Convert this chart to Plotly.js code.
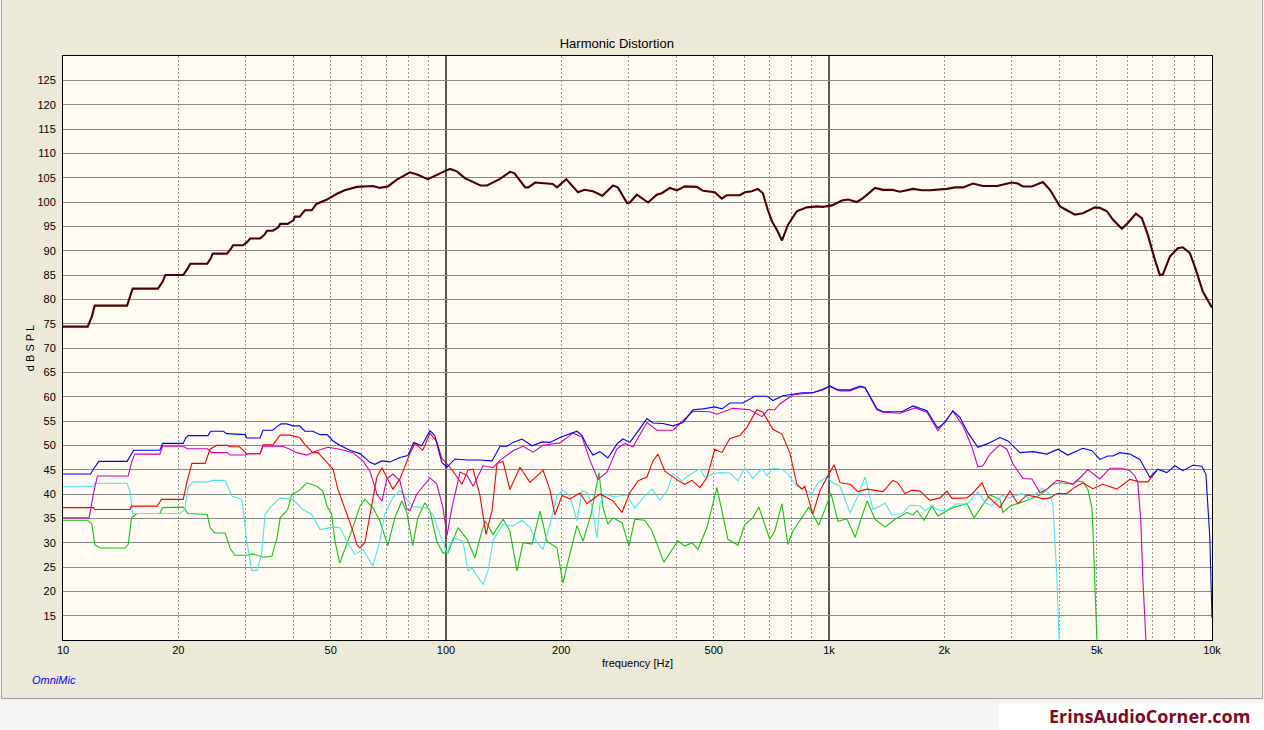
<!DOCTYPE html>
<html>
<head>
<meta charset="utf-8">
<script src="https://cdn.plot.ly/plotly-3.0.1.min.js"></script>
<style>
html,body{margin:0;padding:0;background:#F4F4F4;overflow:hidden;}
#chart{width:1264px;height:730px;}
</style>
</head>
<body>
<div id="chart"></div>
<script>
// ---------------- data (frequency in Hz, level in dB SPL) ----------------
const fundFreq = [10, 11.6, 11.9, 12.1, 14.7, 14.95, 15.2, 17.7, 18.2, 18.5, 20.6, 21.1, 21.5, 23.8, 24.3, 24.6, 26.8, 27.4, 27.8, 29.5, 30.3, 30.8, 32.7, 33.6, 34.1, 35.3, 36.5, 36.9, 38.6, 40.0, 40.3, 41.5, 42.8, 44.6, 45.9, 48.9, 51.9, 54.4, 58.5, 64.4, 67.2, 70.5, 74.4, 80.5, 84.4, 89.6, 96.4, 102.4, 106.8, 112, 123, 128, 138, 147, 151, 161, 164, 171, 190, 195, 206, 221, 230, 242, 256, 273, 281, 297, 302, 315, 337, 355, 366, 384, 401, 420, 452, 469, 503, 525, 541, 585, 603, 629, 652, 672, 692, 710, 731, 754, 781, 824, 875, 930, 964, 1018, 1081, 1121, 1183, 1227, 1319, 1384, 1460, 1532, 1657, 1749, 1835, 2032, 2133, 2238, 2376, 2523, 2744, 3003, 3112, 3208, 3387, 3618, 3775, 4008, 4179, 4388, 4601, 4948, 5097, 5315, 5509, 5817, 6028, 6328, 6559, 6797, 7095, 7310, 7441, 7762, 8140, 8390, 8753, 9075, 9462, 9870, 10000];
const fundLevel = [74.4, 74.4, 76.5, 78.7, 78.7, 80.5, 82.2, 82.2, 83.6, 85.0, 85.0, 86.2, 87.3, 87.3, 88.4, 89.4, 89.4, 90.3, 91.1, 91.1, 91.8, 92.5, 92.5, 93.3, 94.1, 94.1, 94.8, 95.5, 95.5, 96.3, 97.0, 97.0, 98.3, 98.3, 99.6, 100.5, 101.7, 102.4, 103.1, 103.3, 102.9, 103.2, 104.6, 106.1, 105.6, 104.7, 105.9, 106.8, 106.3, 104.9, 103.4, 103.4, 104.7, 106.2, 105.9, 103.0, 103.0, 104.0, 103.7, 103.0, 104.7, 102.0, 102.5, 102.2, 101.3, 103.4, 103.0, 99.8, 99.9, 101.5, 99.9, 101.5, 101.8, 102.9, 102.4, 103.2, 103.1, 102.3, 102.0, 100.7, 101.4, 101.4, 102.0, 102.2, 102.7, 101.8, 98.4, 96.0, 94.3, 92.1, 95.3, 98.1, 98.9, 99.1, 99.0, 99.3, 100.3, 100.5, 100.0, 100.8, 102.9, 102.5, 102.5, 102.1, 102.7, 102.4, 102.4, 102.7, 103.0, 103.0, 103.8, 103.3, 103.3, 104.0, 103.8, 103.2, 103.2, 104.1, 102.5, 99.1, 98.3, 97.4, 97.7, 98.9, 98.8, 98.1, 96.4, 94.5, 95.7, 97.6, 96.7, 93.3, 88.1, 85.0, 85.1, 88.8, 90.5, 90.7, 89.5, 86.1, 81.6, 79.2, 78.3];

const thdFreq = [10, 11.8, 12.1, 12.4, 14.7, 15.0, 15.3, 17.9, 18.2, 20.6, 20.9, 21.2, 23.9, 24.3, 26.2, 26.8, 29.9, 30.2, 32.7, 33.3, 35.3, 36.4, 37.1, 38.4, 39.8, 41.5, 42.8, 44.9, 46.9, 48.9, 50.7, 52.8, 56.1, 59.6, 63.3, 65.2, 68.0, 71.4, 75.8, 79.5, 82.4, 86.4, 90.8, 93.5, 97.5, 100.6, 105.5, 113.5, 122.7, 131.9, 138.4, 144.3, 149.6, 157.9, 167.8, 178.2, 186.8, 198.3, 210.6, 219.8, 226.6, 233.4, 242, 252.3, 264.7, 279.5, 289.7, 302.1, 315.2, 334.7, 347, 368.5, 391.3, 415.5, 441.3, 468.6, 503.3, 525.4, 550.9, 596, 640.1, 688.3, 713.6, 757.9, 804.8, 849.6, 907.5, 964, 1006, 1049, 1135, 1205, 1242, 1334, 1384, 1550, 1657, 1802, 1924, 2009, 2106, 2198, 2305, 2448, 2585, 2795, 2931, 3152, 3407, 3706, 3958, 4203, 4601, 4857, 5097, 5346, 5509, 5748, 6103, 6482, 6883, 7218, 7622, 8001, 8390, 8910, 9406, 9640, 9870, 10000];
const thdLevel = [44.1, 44.1, 45.5, 46.7, 46.7, 48.0, 49.0, 49.0, 50.4, 50.4, 51.5, 52.0, 52.0, 52.9, 52.9, 52.4, 52.2, 51.5, 51.5, 53.1, 53.1, 54.0, 54.4, 54.4, 54.0, 54.0, 52.9, 52.9, 52.2, 52.2, 50.9, 50.0, 49.0, 48.3, 46.5, 46.1, 46.8, 46.6, 47.5, 47.9, 50.6, 49.9, 53.0, 52.0, 46.5, 45.5, 47.2, 47.0, 47.0, 46.8, 49.8, 49.8, 50.6, 51.3, 49.9, 50.7, 50.6, 51.6, 52.4, 52.9, 52.0, 49.9, 48.0, 48.7, 47.4, 50.3, 51.3, 50.6, 52.6, 55.5, 54.6, 54.5, 54.0, 54.7, 57.3, 57.5, 57.9, 57.5, 58.7, 58.7, 60.1, 60.1, 59.2, 60.2, 60.5, 60.8, 60.8, 61.4, 62.2, 61.4, 61.4, 62.2, 61.9, 57.5, 56.9, 56.9, 58.1, 57.1, 53.5, 54.7, 57.1, 55.7, 52.6, 49.6, 50.3, 51.6, 50.9, 48.5, 48.7, 48.2, 49.2, 48.0, 49.4, 48.9, 47.1, 47.8, 47.8, 48.5, 48.2, 47.1, 43.4, 45.1, 44.4, 45.8, 44.8, 45.9, 45.7, 44.1, 31.0, 14.5];

const h2Freq = [10, 11.7, 12.0, 12.3, 14.8, 15.1, 15.4, 17.9, 18.2, 20.6, 21.1, 23.8, 24.5, 26.8, 27.3, 29.9, 30.4, 32.7, 33.3, 37.5, 39.1, 40.8, 43.3, 46.0, 49.2, 52.8, 57.1, 60.7, 63.3, 66.0, 68.0, 70.1, 72.7, 75.8, 79.0, 80.5, 83.9, 90.8, 94.6, 98.1, 100.6, 103.7, 108.8, 113.5, 117.7, 125.0, 132.7, 138.4, 149.6, 158.9, 168.8, 179.2, 198.3, 214.5, 226.6, 237.6, 249.4, 263.2, 279.5, 293.1, 307.7, 334.7, 355.4, 391.3, 441.3, 488.6, 509.7, 561.1, 621.3, 668.1, 692.4, 721.8, 744.1, 804.8, 907.5, 1006, 1069, 1135, 1205, 1242, 1334, 1384, 1532, 1678, 1802, 1924, 2106, 2238, 2362, 2448, 2523, 2632, 2795, 2914, 3021, 3208, 3387, 3554, 3706, 3936, 4131, 4333, 4574, 4740, 5097, 5412, 5817, 6103, 6291, 6401, 6520, 6598, 6720, 6800];
const h2Level = [35.1, 35.1, 40.0, 43.7, 43.7, 46.5, 48.2, 48.2, 49.8, 49.8, 49.3, 49.3, 48.5, 48.5, 48.0, 48.0, 48.3, 48.3, 49.8, 49.8, 49.2, 48.5, 48.0, 48.9, 49.6, 49.2, 48.5, 46.8, 44.7, 40.0, 38.5, 43.1, 44.1, 42.7, 36.9, 36.6, 40.0, 43.3, 42.1, 37.3, 31.5, 37.3, 44.5, 43.8, 41.6, 45.8, 45.4, 46.9, 48.9, 49.8, 48.6, 50.0, 50.5, 52.5, 51.7, 46.9, 43.0, 44.5, 49.3, 50.4, 49.7, 54.7, 53.1, 53.1, 57.0, 56.9, 56.4, 57.6, 57.3, 55.9, 57.3, 57.3, 58.5, 60.4, 60.8, 62.1, 61.2, 61.2, 62.0, 61.8, 57.3, 56.8, 56.6, 57.7, 56.8, 53.0, 57.0, 54.0, 49.6, 45.6, 45.8, 48.2, 50.1, 49.2, 46.2, 43.2, 43.1, 40.3, 41.0, 42.8, 42.5, 42.0, 43.7, 45.0, 43.1, 45.3, 45.3, 44.8, 43.7, 42.3, 34.4, 22.7, 10.0, 4.0];

const h3Freq = [10, 12.0, 12.1, 14.96, 15.1, 17.6, 18.1, 20.6, 21.1, 21.7, 23.5, 24.2, 25.2, 26.8, 27.3, 28.9, 30.2, 32.7, 33.3, 35.3, 36.9, 39.1, 41.5, 42.8, 44.9, 46.3, 48.9, 50.7, 52.2, 54.4, 56.8, 58.5, 59.6, 61.4, 64.0, 66.0, 68.0, 70.5, 72.7, 75.8, 80.5, 82.9, 87.0, 90.8, 94.6, 97.5, 102.4, 106.9, 110.1, 114.1, 117.7, 122.7, 127.2, 131.9, 135.9, 140.9, 146.8, 156.0, 165.7, 179.2, 186.8, 192.4, 200.9, 210.6, 223.8, 233.4, 252.3, 272.9, 288.1, 302.1, 317.1, 334.7, 347.0, 357.6, 372.7, 403.2, 420.3, 438.8, 460.1, 480.0, 503.3, 525.4, 550.9, 585.1, 610.3, 648.2, 672.0, 713.6, 753.5, 790.1, 824.2, 849.6, 864.4, 907.5, 946.2, 993, 1031, 1069, 1135, 1190, 1257, 1384, 1468, 1513, 1579, 1647, 1728, 1835, 1949, 2032, 2094, 2292, 2376, 2508, 2600, 2795, 2968, 3112, 3287, 3490, 3618, 3775, 3936, 4179, 4388, 4601, 4886, 5189, 5644, 6103, 6482, 6797, 7177];
const h3Level = [37.2, 37.2, 36.8, 36.8, 37.5, 37.5, 38.9, 38.9, 42.7, 46.3, 46.3, 49.2, 50.0, 50.0, 49.7, 49.7, 48.3, 48.3, 50.1, 50.1, 52.1, 52.1, 51.6, 50.2, 48.5, 48.5, 46.5, 45.1, 41.0, 37.3, 33.0, 29.6, 28.9, 30.0, 37.3, 43.5, 45.4, 43.1, 41.0, 43.1, 48.3, 50.4, 49.0, 52.5, 50.8, 47.3, 45.5, 43.5, 42.0, 44.9, 45.1, 39.6, 31.7, 36.6, 46.3, 46.7, 40.9, 45.5, 42.4, 44.9, 40.9, 35.7, 39.7, 39.0, 40.2, 38.0, 40.0, 38.6, 36.2, 40.3, 42.7, 43.5, 46.8, 48.2, 44.7, 42.8, 42.0, 42.8, 41.3, 43.4, 49.2, 48.5, 51.4, 52.0, 53.7, 57.3, 56.8, 53.3, 52.3, 48.5, 42.0, 41.0, 41.6, 35.9, 40.6, 43.7, 46.0, 42.3, 42.0, 40.5, 41.0, 40.5, 42.8, 42.3, 40.1, 40.8, 40.6, 38.7, 39.2, 40.6, 39.1, 39.2, 40.2, 42.3, 39.5, 37.2, 40.6, 38.0, 39.8, 39.4, 39.0, 39.2, 40.1, 40.1, 41.4, 42.3, 41.1, 42.0, 41.0, 43.0, 42.5, 42.5, 44.8];

const h4Freq = [10, 12.0, 12.1, 14.7, 14.96, 15.2, 20.2, 20.8, 21.2, 21.85, 23.8, 24.6, 26.5, 27.6, 29.3, 30.2, 31.1, 32.1, 33.0, 33.7, 34.7, 36.9, 39.8, 42.3, 44.6, 46.9, 50.7, 52.8, 55.1, 57.8, 60.7, 64.4, 67.2, 69.2, 72.7, 75.8, 79.0, 81.9, 89.1, 92.4, 96.4, 100.6, 104.3, 110.8, 114.1, 117.0, 119.0, 125.0, 128.7, 132.7, 140.9, 149.6, 157.9, 165.7, 172.8, 179.2, 186.8, 194.9, 202.0, 210.6, 219.8, 226.6, 233.4, 239.2, 247.9, 252.3, 260.0, 272.9, 284.5, 297, 311.2, 326.8, 345.0, 361.8, 377.5, 391.3, 413.1, 428.2, 460.1, 474.0, 497.6, 518.9, 550.9, 578.3, 602.8, 632.8, 668.1, 688.3, 713.6, 753.5, 780.9, 824.2, 864.4, 902.3, 935.1, 987, 1024, 1069, 1135, 1190, 1242, 1303, 1401, 1460, 1560, 1628, 1728, 1782, 1857, 1949, 2032, 2158, 2292, 2448, 2555, 2663, 2828, 2968, 3189, 3347, 3597, 3775, 3842, 3891, 3936, 4008];
const h4Level = [41.6, 41.6, 42.2, 42.2, 40.6, 36.0, 36.0, 36.8, 41.4, 42.5, 42.5, 42.8, 42.8, 39.6, 38.9, 30.3, 24.3, 24.3, 27.6, 35.8, 37.2, 39.2, 38.9, 36.8, 35.8, 32.7, 33.2, 33.1, 30.3, 27.6, 28.6, 25.2, 30.3, 35.8, 39.3, 40.7, 38.9, 37.4, 37.2, 35.8, 31.7, 27.9, 31.0, 30.3, 24.2, 24.8, 23.8, 21.4, 24.2, 30.5, 33.8, 33.4, 34.6, 33.1, 30.0, 28.6, 33.8, 39.6, 40.8, 39.6, 34.5, 40.7, 40.3, 38.3, 31.0, 38.0, 40.0, 39.5, 39.6, 39.8, 37.0, 39.2, 41.0, 38.7, 40.6, 44.2, 42.7, 43.7, 45.2, 43.5, 44.1, 44.4, 44.3, 42.7, 45.4, 43.2, 45.2, 43.8, 45.3, 45.1, 44.1, 41.6, 41.0, 39.9, 42.3, 43.5, 42.3, 41.6, 36.1, 39.6, 43.5, 36.8, 38.1, 35.7, 36.1, 37.7, 37.6, 36.5, 37.6, 36.5, 36.7, 38.0, 37.9, 40.5, 38.2, 37.6, 39.7, 39.2, 40.1, 38.9, 41.2, 40.0, 37.9, 29.6, 22.8, 5.0];

const h5Freq = [10, 11.6, 11.9, 12.1, 12.5, 14.5, 14.8, 15.1, 15.6, 17.9, 18.2, 20.6, 21.2, 23.8, 24.2, 24.9, 26.5, 27.3, 28.1, 30.2, 31.3, 33.3, 35.1, 36.2, 36.9, 38.6, 39.6, 41.5, 43.3, 46.0, 47.7, 48.9, 50.3, 51.3, 52.8, 55.1, 57.1, 59.6, 61.4, 64.4, 67.2, 70.5, 73.5, 76.7, 79.0, 81.9, 84.4, 88.1, 90.8, 94.6, 98.1, 101.2, 107.5, 113.5, 119.0, 122.7, 126.4, 132.7, 140.9, 146.8, 153.2, 158.9, 167.8, 175.9, 183.5, 194.9, 202.0, 208.2, 219.8, 227.9, 239.2, 250.8, 257.0, 264.7, 272.9, 288.1, 300.3, 311.2, 330.5, 345.0, 370.6, 403.2, 420.3, 438.8, 454.7, 480.0, 509.7, 525.4, 544.5, 578.3, 602.8, 632.8, 655.9, 700.6, 721.8, 753.5, 780.9, 804.8, 849.6, 885.8, 940.6, 1012, 1055, 1114, 1170, 1257, 1319, 1401, 1487, 1560, 1598, 1657, 1697, 1770, 1857, 1924, 2032, 2106, 2292, 2392, 2508, 2632, 2795, 2845, 2968, 3152, 3347, 3554, 3842, 4008, 4333, 4438, 4601, 4740, 4857, 4886, 4948, 5033];
const h5Level = [34.6, 34.6, 33.8, 29.6, 28.9, 28.9, 29.6, 35.1, 36.0, 36.0, 37.2, 37.3, 36.0, 35.8, 33.1, 32.0, 32.0, 28.9, 27.4, 27.4, 27.7, 27.0, 27.2, 31.0, 35.1, 36.8, 39.9, 40.8, 42.3, 41.6, 40.6, 37.5, 35.8, 30.3, 25.8, 29.6, 33.1, 37.5, 38.9, 37.2, 34.5, 29.4, 35.1, 38.6, 36.2, 29.4, 35.1, 38.2, 36.5, 30.3, 27.9, 27.9, 33.1, 30.7, 26.9, 31.0, 34.5, 31.7, 34.8, 32.4, 24.2, 30.0, 29.7, 36.5, 30.3, 28.9, 21.7, 26.1, 33.5, 30.3, 35.8, 44.4, 37.2, 33.8, 35.1, 34.1, 29.3, 34.8, 34.6, 32.4, 26.0, 30.4, 29.3, 30.0, 28.6, 33.1, 41.3, 36.5, 30.7, 29.5, 33.7, 35.1, 37.3, 30.7, 32.4, 38.0, 29.6, 32.4, 35.1, 37.3, 33.6, 40.1, 34.4, 34.9, 31.1, 38.6, 34.8, 33.2, 34.8, 35.8, 36.2, 35.7, 36.6, 34.6, 37.5, 35.5, 36.5, 37.2, 38.0, 35.1, 37.5, 39.8, 38.9, 36.2, 37.5, 38.2, 38.9, 39.8, 42.0, 42.3, 42.0, 42.7, 42.5, 41.0, 37.2, 33.1, 21.4, 5.0];

// ---------------- axes ----------------
const xTickVals = [10, 20, 50, 100, 200, 500, 1000, 2000, 5000, 10000];
const xTickText = ['10', '20', '50', '100', '200', '500', '1k', '2k', '5k', '10k'];
const xMinorVals = [20, 30, 40, 50, 60, 70, 80, 90, 200, 300, 400, 500, 600, 700, 800, 900, 2000, 3000, 4000, 5000, 6000, 7000, 8000, 9000];
const xDecadeLines = [100, 1000];
const yTickVals = [15, 20, 25, 30, 35, 40, 45, 50, 55, 60, 65, 70, 75, 80, 85, 90, 95, 100, 105, 110, 115, 120, 125];

const seriesList = [
  {name: '5th', x: h5Freq, y: h5Level, color: '#10C810', width: 1.1},
  {name: '4th', x: h4Freq, y: h4Level, color: '#48E8F0', width: 1.1},
  {name: '3rd', x: h3Freq, y: h3Level, color: '#FF0000', width: 1.1},
  {name: '2nd', x: h2Freq, y: h2Level, color: '#D800B0', width: 1.1},
  {name: 'THD', x: thdFreq, y: thdLevel, color: '#0000FF', width: 1.1},
  {name: 'Fundamental', x: fundFreq, y: fundLevel, color: '#4D0000', width: 2.1}
];

const traces = seriesList.map(s => ({
  type: 'scatter', mode: 'lines', name: s.name,
  x: s.x, y: s.y,
  line: {color: s.color, width: s.width},
  hoverinfo: 'skip'
}));

const FONT = 'Liberation Sans, Arial, sans-serif';

const shapes = [
  // tan window panel
  {type: 'rect', xref: 'paper', yref: 'paper', x0: -0.0535, x1: 1.0440, y0: -0.1002, y1: 1.0993,
   fillcolor: '#ECE9D8', line: {color: '#A0A0A0', width: 1}, layer: 'below'},
  // white watermark box
  {type: 'rect', xref: 'paper', yref: 'paper', x0: 0.8146, x1: 1.06, y0: -0.17, y1: -0.1079,
   fillcolor: '#FFFFFF', line: {width: 0}, layer: 'below'},
  // cream plot area
  {type: 'rect', xref: 'paper', yref: 'paper', x0: 0, x1: 1, y0: 0, y1: 1,
   fillcolor: '#FFFAF2', line: {width: 0}, layer: 'below'}
];
xDecadeLines.forEach(v => shapes.push({
  type: 'line', xref: 'x', yref: 'paper', x0: v, x1: v, y0: 0, y1: 1,
  line: {color: '#000000', width: 1.3}, layer: 'below'
}));

const layout = {
  width: 1264, height: 730,
  margin: {l: 63, r: 52, t: 56, b: 90, pad: 0},
  paper_bgcolor: '#F4F4F4',
  plot_bgcolor: '#FFFAF2',
  showlegend: false,
  font: {family: FONT, size: 11, color: '#000000'},
  title: {
    text: 'Harmonic Distortion',
    font: {family: FONT, size: 13, color: '#000000'},
    xref: 'paper', x: 0.482, xanchor: 'center',
    yref: 'container', y: 0.941, yanchor: 'middle'
  },
  xaxis: {
    type: 'log', range: [1, 4],
    tickmode: 'array', tickvals: xTickVals, ticktext: xTickText,
    ticks: '', showgrid: false, zeroline: false,
    showline: true, mirror: true, linecolor: '#000000', linewidth: 1,
    tickfont: {family: FONT, size: 11, color: '#000000'},
    minor: {tickmode: 'array', tickvals: xMinorVals, ticks: '', showgrid: true,
            gridcolor: '#9A9A9A', gridwidth: 1, griddash: '2px,2px'},
    title: {text: 'frequency [Hz]', font: {family: FONT, size: 11, color: '#000000'}, standoff: 4}
  },
  yaxis: {
    range: [10, 130],
    tickmode: 'array', tickvals: yTickVals,
    ticks: '', ticklabelstandoff: 4,
    showgrid: true, gridcolor: '#888888', gridwidth: 1,
    zeroline: false,
    showline: true, mirror: true, linecolor: '#000000', linewidth: 1,
    tickfont: {family: FONT, size: 11, color: '#000000'},
    title: {text: 'd B S P L', font: {family: FONT, size: 11, color: '#000000'}, standoff: 0}
  },
  shapes: shapes,
  annotations: [
    {xref: 'paper', yref: 'paper', x: -0.0287, y: -0.0685, xanchor: 'left', yanchor: 'middle',
     text: '<i>OmniMic</i>', showarrow: false, font: {family: FONT, size: 11, color: '#0000FF'}},
    {xref: 'paper', yref: 'paper', x: 1.0348, y: -0.1301, xanchor: 'right', yanchor: 'middle',
     text: '<b>ErinsAudioCorner.com</b>', showarrow: false,
     font: {family: 'Open Sans, Liberation Sans, Arial, sans-serif', size: 18, color: '#7D0A22'}}
  ]
};

Plotly.newPlot('chart', traces, layout, {staticPlot: true, displayModeBar: false});
</script>
</body>
</html>
